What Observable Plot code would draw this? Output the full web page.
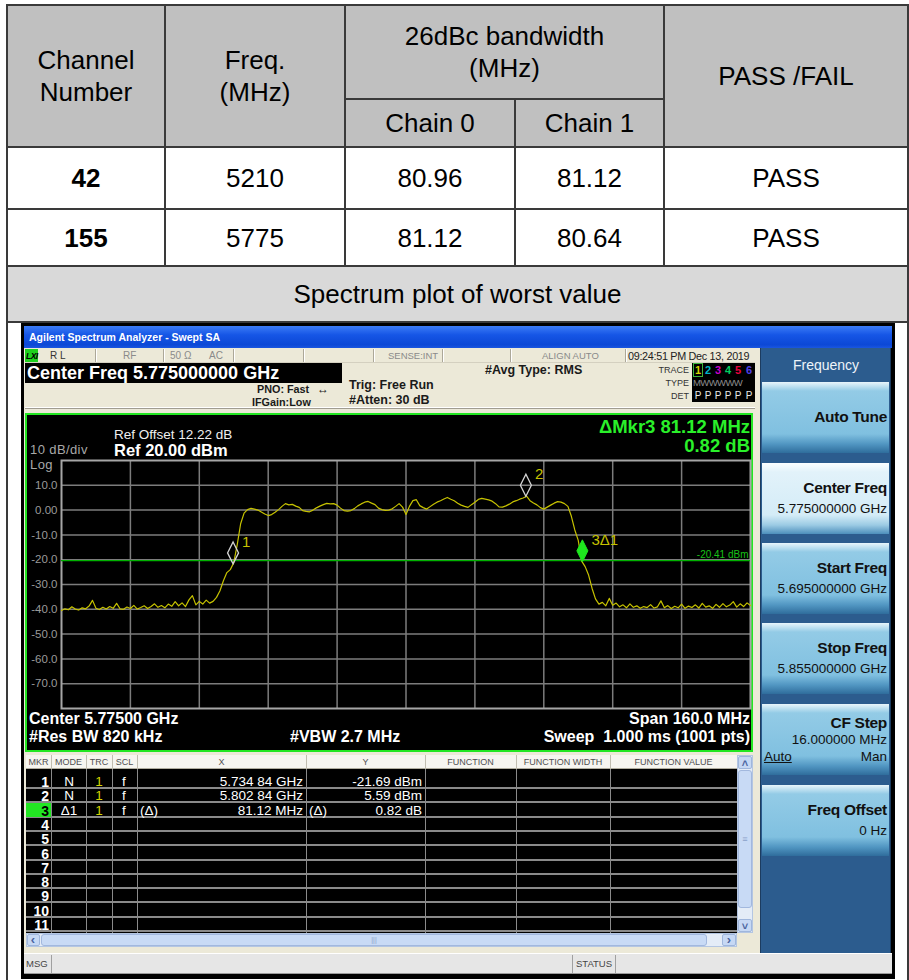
<!DOCTYPE html>
<html><head><meta charset="utf-8">
<script src="https://cdn.jsdelivr.net/npm/d3@7"></script>
<script src="https://cdn.jsdelivr.net/npm/@observablehq/plot@0.6"></script>
<style>
html,body{margin:0;padding:0;background:#fff;}
#page{position:relative;width:909px;height:980px;overflow:hidden;font-family:"Liberation Sans",Arial,sans-serif;}
.a{position:absolute;box-sizing:border-box;white-space:pre;}
.cell{position:absolute;box-sizing:border-box;display:flex;flex-direction:column;align-items:center;justify-content:center;font-size:26px;line-height:32px;color:#000;}
</style></head><body><div id="page"></div>
<script>
// ---------- table data ----------
const headerChannel = ["Channel", "Number"];
const headerFreq = ["Freq.", "(MHz)"];
const headerBW = ["26dBc bandwidth", "(MHz)"];
const headerChains = ["Chain 0", "Chain 1"];
const headerResult = "PASS /FAIL";
const tableChannels = [42, 155];
const tableFreqMHz = [5210, 5775];
const chain0BW = ["80.96", "81.12"];
const chain1BW = ["81.12", "80.64"];
const passFail = ["PASS", "PASS"];
const plotTitle = "Spectrum plot of worst value";

// ---------- spectrum data ----------
const spanStartMHz = 5695, spanStopMHz = 5855;
const refLevel = 20, bottomLevel = -80;
const xGridMHz = [5711, 5727, 5743, 5759, 5775, 5791, 5807, 5823, 5839];
const yGridDbm = [10, 0, -10, -20, -30, -40, -50, -60, -70];
const yTickLabels = ["10.0", "0.00", "-10.0", "-20.0", "-30.0", "-40.0", "-50.0", "-60.0", "-70.0"];
const traceStepMHz = 0.8;
const traceDbm = [
 -40.5,-39.8,-40.2,-39.0,-39.9,-40.3,-39.4,-39.8,-38.7,-36.4,
 -39.6,-40.1,-39.2,-39.9,-38.9,-39.6,-37.6,-39.8,-40.0,-39.1,
 -39.7,-38.4,-39.9,-39.3,-38.6,-39.7,-38.9,-37.8,-39.2,-38.5,
 -39.4,-37.9,-38.8,-36.9,-38.6,-37.4,-38.9,-36.2,-34.5,-38.2,
 -36.8,-37.9,-36.3,-37.5,-36.8,-35.2,-32.5,-28.5,-25.2,-24.0,
 -21.2,-14.0,-5.5,-1.2,0.2,0.7,0.4,0.0,-0.8,-1.6,
 -2.2,-1.8,-0.9,0.2,1.5,2.6,2.1,2.3,1.6,1.1,
 -0.2,-0.5,-0.7,0.0,0.9,1.6,2.2,2.7,2.5,2.6,
 2.0,0.8,-0.2,-0.4,-0.2,0.6,1.7,2.5,3.2,3.5,
 2.8,2.2,0.8,0.2,-0.1,0.0,0.5,1.5,2.6,1.2,
 -1.8,1.5,3.8,4.2,1.8,1.0,0.4,1.4,2.4,3.2,
 3.8,4.5,5.1,4.4,3.8,2.8,2.0,1.5,1.1,2.2,
 3.2,4.3,4.7,4.4,4.1,3.6,2.6,1.3,1.2,1.7,
 2.4,3.3,3.8,4.4,4.9,5.6,3.8,2.9,2.1,1.0,
 0.4,1.2,2.0,2.8,3.4,3.2,2.6,1.5,-2.5,-8.0,
 -12.2,-20.6,-22.8,-26.2,-31.5,-35.8,-37.9,-37.2,-38.6,-35.6,
 -38.4,-37.5,-39.0,-38.2,-39.4,-37.8,-39.2,-38.6,-39.6,-38.9,
 -39.3,-38.1,-39.5,-39.0,-36.6,-39.4,-38.5,-39.7,-38.8,-39.4,
 -37.9,-39.6,-38.7,-39.3,-38.2,-39.5,-37.6,-39.1,-38.6,-39.6,
 -38.0,-39.2,-37.7,-39.0,-38.3,-36.9,-39.1,-37.8,-38.9,-37.4,
 -38.5
];
const markerFreqMHz = [5734.84, 5802.84, 5815.96];
const markerDbm = [-21.69, 5.59, -20.87];
const markerLabels = ["1", "2", "3Δ1"];
const displayLineDbm = -20.41;

// ---------- marker table data ----------
const mkrRows = [1, 2, 3, 4, 5, 6, 7, 8, 9, 10, 11];
const mkrMode = ["N", "N", "Δ1"];
const mkrTrace = ["1", "1", "1"];
const mkrScale = ["f", "f", "f"];
const mkrXPrefix = ["", "", "(Δ)"];
const mkrX = ["5.734 84 GHz", "5.802 84 GHz", "81.12 MHz"];
const mkrYPrefix = ["", "", "(Δ)"];
const mkrY = ["-21.69 dBm", "5.59 dBm", "0.82 dB"];
const mkrColumns = ["MKR", "MODE", "TRC", "SCL", "X", "Y", "FUNCTION", "FUNCTION WIDTH", "FUNCTION VALUE"];

// ---------- soft keys ----------
const softKeyTitle = "Frequency";
const softKeys = [
  {label: "Auto Tune", value: null},
  {label: "Center Freq", value: "5.775000000 GHz", selected: true},
  {label: "Start Freq", value: "5.695000000 GHz"},
  {label: "Stop Freq", value: "5.855000000 GHz"},
  {label: "CF Step", value: "16.000000 MHz", extra: true},
  {label: "Freq Offset", value: "0 Hz"}
];

// ---------- helpers ----------
const page = document.getElementById("page");
function box(x, y, w, h, css = "") {
  const d = document.createElement("div");
  d.className = "a";
  d.style.cssText = `left:${x}px;top:${y}px;width:${w}px;height:${h}px;${css}`;
  page.appendChild(d);
  return d;
}
function t(x, y, s, o = {}) {
  const d = document.createElement("div");
  d.className = "a";
  d.textContent = s;
  const size = o.size || 12;
  const h = o.h || Math.ceil(size * 1.4);
  let css = `top:${y - h / 2}px;height:${h}px;line-height:${h}px;font-size:${size}px;color:${o.color || "#000"};font-weight:${o.weight || "normal"};`;
  if (o.anchor === "end") css += `left:${x - 500}px;width:500px;text-align:right;`;
  else if (o.anchor === "middle") css += `left:${x - 250}px;width:500px;text-align:center;`;
  else css += `left:${x}px;`;
  if (o.css) css += o.css;
  d.style.cssText = css;
  page.appendChild(d);
  return d;
}
function cell(x0, x1, y0, y1, lines, css = "") {
  const d = document.createElement("div");
  d.className = "cell";
  d.style.cssText = `left:${x0}px;top:${y0}px;width:${x1 - x0}px;height:${y1 - y0}px;${css}`;
  for (const s of lines) { const sp = document.createElement("div"); sp.textContent = s; d.appendChild(sp); }
  page.appendChild(d);
}

// ---------- table ----------
const TL = "#3a3a3a";
box(7, 5, 901, 142, "background:#c0c0c0;");
box(7, 266, 901, 56, "background:#d9d9d9;");
cell(7, 165, 5, 147, headerChannel);
cell(165, 345, 5, 147, headerFreq);
cell(345, 664, 5, 99, headerBW);
cell(345, 515, 99, 147, [headerChains[0]]);
cell(515, 664, 99, 147, [headerChains[1]]);
cell(664, 908, 5, 147, [headerResult]);
const rowY = [[147, 209], [209, 266]];
tableChannels.forEach((c, i) => {
  const [y0, y1] = rowY[i];
  cell(7, 165, y0, y1, [String(c)], "font-weight:bold;");
  cell(165, 345, y0, y1, [String(tableFreqMHz[i])]);
  cell(345, 515, y0, y1, [chain0BW[i]]);
  cell(515, 664, y0, y1, [chain1BW[i]]);
  cell(664, 908, y0, y1, [passFail[i]]);
});
cell(7, 908, 266, 322, [plotTitle]);
[5, 147, 209, 266, 322].forEach(y => box(6, y - 1, 903, 2, `background:${TL};`));
box(345, 98, 319, 2, `background:${TL};`);
box(6, 4, 2, 980, `background:${TL};`);
box(907, 4, 2, 980, `background:${TL};`);
[165, 345, 664].forEach(x => box(x - 1, 5, 2, 261, `background:${TL};`));
box(514, 99, 2, 167, `background:${TL};`);

// ---------- analyzer frame ----------
box(21, 323, 874, 656, "background:#000;");
box(24, 326, 868, 22, "background:linear-gradient(#3c7cf6,#1656e6 40%,#0c48d6 85%,#1a56e0);");
t(29, 337, "Agilent Spectrum Analyzer - Swept SA", {size: 10.5, color: "#fff", weight: "bold"});
box(24, 348, 736, 605, "background:#ece9d8;");
// status row
[95, 163, 233, 303, 373, 442, 510, 625].forEach(x => { box(x, 349, 1, 13, "background:#aca899;"); box(x + 1, 349, 1, 13, "background:#fff;"); });
box(25, 362, 730, 1, "background:#d4d0c0;");
box(25, 349, 13, 13, "background:#1ed21e;");
t(26, 355.5, "LXI", {size: 8.5, weight: "bold", color: "#000", css: "font-style:italic;letter-spacing:-0.5px;"});
t(50, 355.5, "R L", {size: 10, color: "#333"});
t(123, 355.5, "RF", {size: 10, color: "#8a8a8a"});
t(170, 355.5, "50 Ω", {size: 10, color: "#8a8a8a"});
t(209, 355.5, "AC", {size: 10, color: "#8a8a8a"});
t(388, 355.5, "SENSE:INT", {size: 9.5, color: "#8a8a8a"});
t(542, 355.5, "ALIGN AUTO", {size: 9.5, color: "#8a8a8a"});
t(628, 355.5, "09:24:51 PM Dec 13, 2019", {size: 10.8, color: "#222", css: "letter-spacing:-0.3px;"});
// center freq box
box(25, 363, 317, 20, "background:#000;");
t(27, 373, "Center Freq 5.775000000 GHz", {size: 18, weight: "bold", color: "#fff"});
t(257, 389, "PNO: Fast", {size: 10.8, weight: "bold", color: "#1a1a1a", h: 13});
t(317, 389, "↔", {size: 12, weight: "bold", color: "#1a1a1a", h: 13});
t(252, 402, "IFGain:Low", {size: 10.8, weight: "bold", color: "#1a1a1a", h: 13});
t(349, 385, "Trig: Free Run", {size: 12.5, weight: "bold", color: "#1a1a1a", h: 15});
t(349, 400, "#Atten: 30 dB", {size: 12.5, weight: "bold", color: "#1a1a1a", h: 15});
t(485, 370, "#Avg Type: RMS", {size: 12.5, weight: "bold", color: "#1a1a1a"});
// trace box
box(692, 363, 63, 39, "background:#000;");
t(689, 370, "TRACE", {size: 9, color: "#333", anchor: "end", h: 12});
t(689, 383, "TYPE", {size: 9, color: "#333", anchor: "end", h: 12});
t(689, 396, "DET", {size: 9, color: "#333", anchor: "end", h: 12});
box(693, 363, 10, 14, "border:1px solid #3cb43c;");
const traceColors = ["#d4d400", "#00b4c8", "#c800c8", "#00d060", "#e8003c", "#5040e8"];
const tracePos = [698, 708, 718, 728, 738, 749];
traceColors.forEach((c, i) => {
  t(tracePos[i], 370, String(i + 1), {size: 11, color: c, anchor: "middle", weight: "bold", h: 13});
  t(tracePos[i], 396, "P", {size: 10, color: "#e8e8e8", anchor: "middle", h: 12});
});
t(693, 383, "MWWWWW", {size: 9.5, color: "#8c8c8c", css: "letter-spacing:-0.6px;", h: 12});
box(25, 407, 730, 1, "background:#fff;");
box(25, 408, 730, 1, "background:#a09c90;");

// ---------- spectrum plot ----------
box(25, 413, 728, 339, "border:2px solid #22e622;background:#000;");
const tallDiamond = {
  draw(ctx) { ctx.moveTo(0, 0); ctx.lineTo(5.5, -11); ctx.lineTo(0, -22); ctx.lineTo(-5.5, -11); ctx.closePath(); }
};
const idx = d3.range(traceDbm.length);
const chart = Plot.plot({
  width: 724, height: 335,
  marginLeft: 34, marginRight: 1, marginTop: 45, marginBottom: 42,
  style: {background: "#000", color: "#9a9a9a", fontFamily: "'Liberation Sans', Arial, sans-serif", fontSize: "11.5px", overflow: "visible"},
  x: {domain: [spanStartMHz, spanStopMHz], axis: null},
  y: {domain: [bottomLevel, refLevel]},
  marks: [
    Plot.gridX(xGridMHz, {stroke: "#7c7c7c", strokeOpacity: 1, strokeWidth: 1.5}),
    Plot.gridY(yGridDbm, {stroke: "#7c7c7c", strokeOpacity: 1, strokeWidth: 1.5}),
    Plot.frame({stroke: "#a6a6a6", strokeWidth: 2}),
    Plot.axisY(yGridDbm, {anchor: "left", tickSize: 0, tickPadding: 4, label: null,
      tickFormat: d => yTickLabels[yGridDbm.indexOf(d)]}),
    Plot.ruleY([displayLineDbm], {stroke: "#00b000", strokeWidth: 1.3}),
    Plot.text([displayLineDbm], {y: d => d, frameAnchor: "right", text: d => `${d.toFixed(2)} dBm`,
      textAnchor: "end", dx: -2, dy: -6, fill: "#18c018", fontSize: 10}),
    Plot.line(idx, {x: i => spanStartMHz + i * traceStepMHz, y: i => traceDbm[i], stroke: "#c6c200", strokeWidth: 1.2}),
    Plot.dot([0, 1], {x: i => markerFreqMHz[i], y: i => markerDbm[i], symbol: tallDiamond, r: 6,
      stroke: "#d4d4d4", fill: "none", strokeWidth: 1.3}),
    Plot.dot([2], {x: i => markerFreqMHz[i], y: i => markerDbm[i], symbol: tallDiamond, r: 6,
      stroke: "#1ee61e", fill: "#1ee61e", strokeWidth: 1}),
    Plot.text([0, 1, 2], {x: i => markerFreqMHz[i], y: i => markerDbm[i], text: i => markerLabels[i],
      dx: 9, dy: -22, textAnchor: "start", fill: "#c6c200", fontSize: 15})
  ]
});
const wrap = box(27, 415, 724, 335, "");
wrap.appendChild(chart);
t(114, 435, "Ref Offset 12.22 dB", {size: 13.5, color: "#f0f0f0", h: 14});
t(114, 450, "Ref 20.00 dBm", {size: 16.5, weight: "bold", color: "#fff", h: 16});
t(30, 450, "10 dB/div", {size: 13, color: "#a8a8a8", h: 12, css: "letter-spacing:0.4px;"});
t(30, 464.5, "Log", {size: 13, color: "#a8a8a8", h: 12, css: "letter-spacing:0.4px;"});
t(750, 426, "ΔMkr3 81.12 MHz", {size: 18.5, weight: "bold", color: "#2af02a", anchor: "end", h: 19});
t(750, 445, "0.82 dB", {size: 18.5, weight: "bold", color: "#2af02a", anchor: "end", h: 19});
t(29, 719, "Center 5.77500 GHz", {size: 16, weight: "bold", color: "#fff", h: 18});
t(29, 737, "#Res BW 820 kHz", {size: 16, weight: "bold", color: "#fff", h: 18});
t(290, 737, "#VBW 2.7 MHz", {size: 16, weight: "bold", color: "#fff", h: 18});
t(750, 719, "Span 160.0 MHz", {size: 16, weight: "bold", color: "#fff", anchor: "end", h: 18});
t(750, 737, "Sweep  1.000 ms (1001 pts)", {size: 16, weight: "bold", color: "#fff", anchor: "end", h: 18});

// ---------- marker table ----------
const colX = [26, 51, 86, 112, 137, 306, 425, 516, 610, 737];
box(26, 755, 711, 14, "background:#f6f5f0;border-bottom:1px solid #b0ad9f;");
mkrColumns.forEach((c, i) => t((colX[i] + colX[i + 1]) / 2, 762, c, {size: 9, color: "#505050", anchor: "middle", h: 12}));
colX.slice(1, 9).forEach(x => box(x, 755, 1, 14, "background:#c0bdb0;"));
box(26, 769, 711, 164, "background:#000;");
const rowPitch = 14.3;
mkrRows.forEach((r, k) => {
  const yl = 788 + k * rowPitch;
  box(26, yl - 1, 711, 2, "background:#8a8a8a;");
});
colX.slice(1, 9).forEach(x => box(x - 0.5, 769, 1.5, 164, "background:#8a8a8a;"));
box(26, 788 + rowPitch + 1, 25, 13.3, "background:#22e622;");
mkrRows.forEach((r, k) => {
  const yc = 788 + k * rowPitch - 6;
  t(49, yc, String(r), {size: 14, weight: "bold", color: k === 2 ? "#000" : "#fff", anchor: "end", h: 14});
  if (k < mkrMode.length) {
    t(69, yc, mkrMode[k], {size: 13.5, color: "#fff", anchor: "middle", h: 14});
    t(99, yc, mkrTrace[k], {size: 13.5, color: "#d4d400", anchor: "middle", h: 14});
    t(124, yc, mkrScale[k], {size: 13.5, color: "#fff", anchor: "middle", h: 14});
    if (mkrXPrefix[k]) t(140, yc, mkrXPrefix[k], {size: 13.5, color: "#fff", h: 14});
    t(303, yc, mkrX[k], {size: 13.5, color: "#fff", anchor: "end", h: 14});
    if (mkrYPrefix[k]) t(309, yc, mkrYPrefix[k], {size: 13.5, color: "#fff", h: 14});
    t(422, yc, mkrY[k], {size: 13.5, color: "#fff", anchor: "end", h: 14});
  }
});
// scrollbars
box(737, 755, 16, 178, "background:#e4ecf7;border:1px solid #b4c6e2;");
box(738, 756, 14, 13, "background:#c6d8f4;border:1px solid #9fb6dc;border-radius:2px;");
t(745, 763, "˄", {size: 11, color: "#4a64a0", anchor: "middle", weight: "bold", h: 12});
box(738, 770, 14, 138, "background:#c8daf5;border:1px solid #a2b8de;border-radius:3px;");
t(745, 839, "≡", {size: 9, color: "#8aa0c8", anchor: "middle", h: 12});
box(738, 919, 14, 13, "background:#c6d8f4;border:1px solid #9fb6dc;border-radius:2px;");
t(745, 926, "˅", {size: 11, color: "#4a64a0", anchor: "middle", weight: "bold", h: 12});
box(26, 933, 711, 14, "background:#e4ecf7;border:1px solid #b4c6e2;");
box(27, 934, 13, 12, "background:#c6d8f4;border:1px solid #9fb6dc;border-radius:2px;");
t(33, 940, "‹", {size: 13, color: "#4a64a0", anchor: "middle", weight: "bold", h: 12});
box(41, 934, 666, 12, "background:#c8daf5;border:1px solid #a2b8de;border-radius:3px;");
t(374, 940, "|||", {size: 7, color: "#8aa0c8", anchor: "middle", h: 10});
box(722, 934, 14, 12, "background:#c6d8f4;border:1px solid #9fb6dc;border-radius:2px;");
t(729, 940, "›", {size: 13, color: "#4a64a0", anchor: "middle", weight: "bold", h: 12});

// status bar
box(24, 953, 868, 21, "background:#e6e6e6;border-top:1px solid #fff;border-bottom:1px solid #9a9a9a;");
[51, 572, 615].forEach(x => box(x, 955, 1, 18, "background:#a0a0a0;"));
t(26, 964, "MSG", {size: 9.5, color: "#444"});
t(576, 964, "STATUS", {size: 9.5, color: "#444"});

// ---------- soft key panel ----------
box(760, 348, 131, 605, "background:#2c5c8e;border-left:1px solid #1c3c60;border-right:1px solid #1c3c60;");
t(826, 365, softKeyTitle, {size: 14, color: "#eef4fa", anchor: "middle"});
const keyTops = [382, 463, 543, 623, 704, 785];
softKeys.forEach((k, i) => {
  const y0 = keyTops[i];
  const bg = k.selected
    ? "linear-gradient(#fbfeff 0px,#e2f2fa 9px,#d4ecf7 52px,#9ccbe4 62px,#4d8fbc 71px)"
    : "linear-gradient(#e8f5fb 0px,#93cbe6 9px,#80c0e0 52px,#5196c2 62px,#2f6d9c 71px)";
  box(762, y0, 127, 71, `background:${bg};`);
  if (k.value === null) {
    t(887, y0 + 35, k.label, {size: 15.5, weight: "bold", color: "#111", anchor: "end", css: "letter-spacing:-0.3px;"});
  } else if (k.extra) {
    t(887, y0 + 18, k.label, {size: 15.5, weight: "bold", color: "#111", anchor: "end", css: "letter-spacing:-0.3px;", h: 17});
    t(887, y0 + 36, k.value, {size: 13.5, color: "#111", anchor: "end", h: 16});
    t(764, y0 + 53, "Auto", {size: 13.5, color: "#111", css: "text-decoration:underline;", h: 16});
    t(887, y0 + 53, "Man", {size: 13.5, color: "#111", anchor: "end", h: 16});
  } else {
    t(887, y0 + 25, k.label, {size: 15.5, weight: "bold", color: "#111", anchor: "end", css: "letter-spacing:-0.3px;", h: 18});
    t(887, y0 + 46, k.value, {size: 13.5, color: "#111", anchor: "end", h: 18});
  }
});
</script></body></html>
